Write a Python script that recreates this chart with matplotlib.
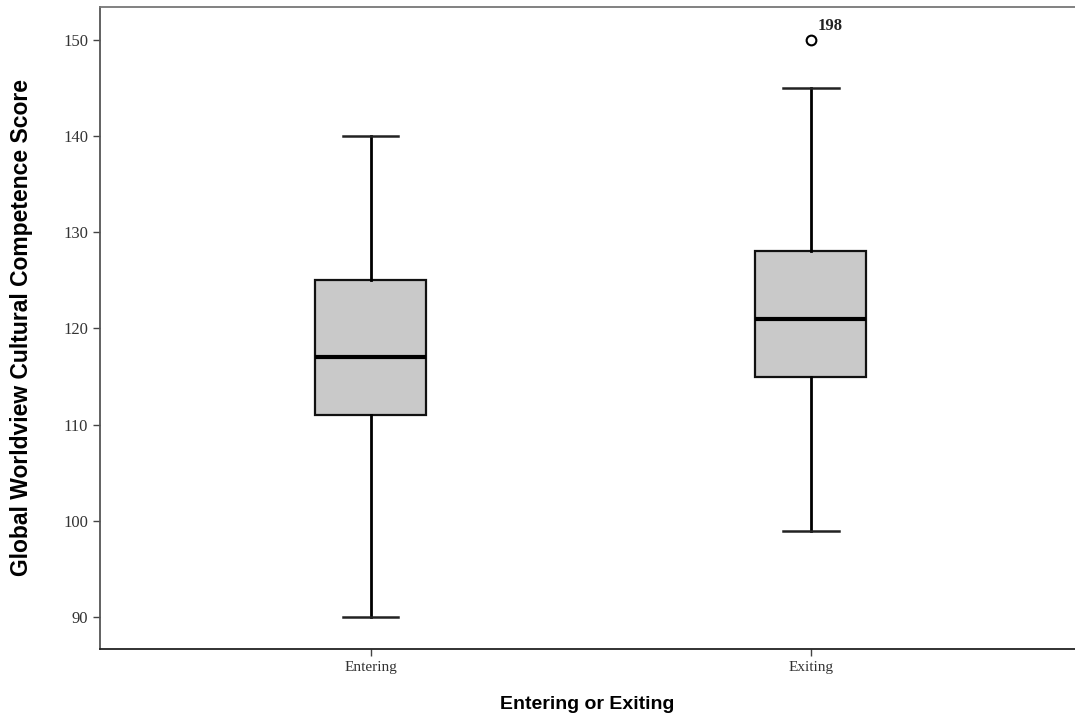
import matplotlib.pyplot as plt

# group labels and five-number summaries
groups = ['Entering', 'Exiting']
whislo = [90, 99]
q1 = [111, 115]
med = [117, 121]
q3 = [125, 128]
whishi = [140, 145]
fliers = [[], [150]]
flier_ids = [[], ['198']]

stats = []
for i, g in enumerate(groups):
    stats.append(dict(label=g, whislo=whislo[i], q1=q1[i], med=med[i],
                      q3=q3[i], whishi=whishi[i], fliers=fliers[i]))

fig = plt.figure(figsize=(10.75, 7.19), dpi=100)
ax = fig.add_axes([100 / 1075, 70 / 719, 1 - 100 / 1075, 642 / 719])

positions = [1, 2]
ax.bxp(stats, positions=positions, widths=0.252, patch_artist=True,
       boxprops=dict(facecolor='#c9c9c9', edgecolor='#111111', linewidth=1.6),
       medianprops=dict(color='black', linewidth=3.0),
       whiskerprops=dict(color='black', linewidth=2.0),
       capprops=dict(color='#222222', linewidth=1.8),
       flierprops=dict(marker='o', markerfacecolor='white', markeredgecolor='black',
                       markersize=7, markeredgewidth=1.5))

# case number next to the outlier
for p, fl, ids in zip(positions, fliers, flier_ids):
    for v, lab in zip(fl, ids):
        ax.annotate(lab, (p, v), xytext=(5, 7), textcoords='offset points',
                    fontsize=12, family='Liberation Serif', fontweight='bold',
                    color='#222222')

ax.set_xlim(0.385, 2.6)
ax.set_ylim(86.7, 153.4)
ax.set_yticks([90, 100, 110, 120, 130, 140, 150])
ax.set_xticks(positions)
ax.set_xticklabels(groups)
for lbl in ax.get_xticklabels():
    lbl.set_family('Liberation Serif')
    lbl.set_fontsize(11)
    lbl.set_color('#333333')
for lbl in ax.get_yticklabels():
    lbl.set_family('Liberation Serif')
    lbl.set_fontsize(12)
    lbl.set_color('#333333')
ax.tick_params(axis='both', direction='out', length=5, width=1, color='#444444')

ax.spines['right'].set_visible(False)
ax.spines['top'].set_color('#777777')
ax.spines['left'].set_color('#555555')
ax.spines['bottom'].set_color('#222222')
for s in ax.spines.values():
    s.set_linewidth(1.3)

ax.set_ylabel('Global Worldview Cultural Competence Score', family='Liberation Sans',
              fontweight='bold', fontsize=16.5, labelpad=22)
ax.set_xlabel('Entering or Exiting', family='Liberation Sans',
              fontweight='bold', fontsize=14, labelpad=16)

fig.savefig('out.png', dpi=100)
